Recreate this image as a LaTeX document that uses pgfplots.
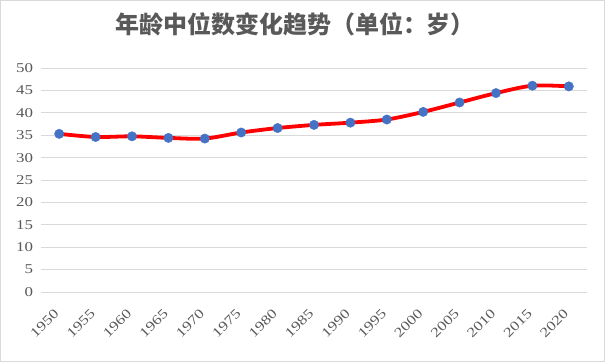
\documentclass[border=0pt]{standalone}
\usepackage{pgfplots}
\pgfplotsset{compat=1.18}
\usepackage{fontspec}
\setmainfont{Liberation Serif}
\newfontfamily\tickfont[FakeStretch=1.25]{Liberation Serif}
\newfontfamily\cjk{Noto Sans CJK SC}
\definecolor{txtgray}{HTML}{595959}
\definecolor{gridgray}{HTML}{D9D9D9}
\definecolor{mblue}{HTML}{4472C4}
\begin{document}
\begin{tikzpicture}
\useasboundingbox (-41pt,-70pt) rectangle (564pt,292pt);
\draw[gridgray] (-40.5pt,-69.5pt) rectangle (563.5pt,291.5pt);
\begin{axis}[
  at={(0,0)}, anchor=south west,
  scale only axis, width=546pt, height=224pt,
  xmin=-0.5, xmax=14.5, ymin=0, ymax=50,
  axis line style={draw=none},
  tick style={draw=none},
  ytick={0,5,...,50},
  xtick={0,...,14},
  xticklabels={1950,1955,1960,1965,1970,1975,1980,1985,1990,1995,2000,2005,2010,2015,2020},
  ymajorgrids, grid style={gridgray, line width=0.8pt},
  /pgf/number format/assume math mode=true,
  tick label style={font=\tickfont\fontsize{13.5}{15}\selectfont, text=txtgray},
  yticklabel style={xshift=-4.5pt},
  xticklabel style={xshift=-6pt, yshift=-11pt, rotate=45, anchor=north east},
  clip=false,
]
\addplot[red, line width=3.8pt, smooth, tension=0.5, mark=*, mark size=4.7pt,
  mark options={solid, fill=mblue, draw=mblue, line width=0.4pt}]
  coordinates {
  (0,35.3) (1,34.6) (2,34.75) (3,34.4) (4,34.25) (5,35.6) (6,36.6) (7,37.3)
  (8,37.8) (9,38.5) (10,40.2) (11,42.3) (12,44.4) (13,46.05) (14,45.9)
  };
\end{axis}
\node[text=txtgray, font=\cjk\bfseries\fontsize{24}{28}\selectfont] at (254pt,268pt) {年龄中位数变化趋势（单位：岁）};
\end{tikzpicture}
\end{document}
